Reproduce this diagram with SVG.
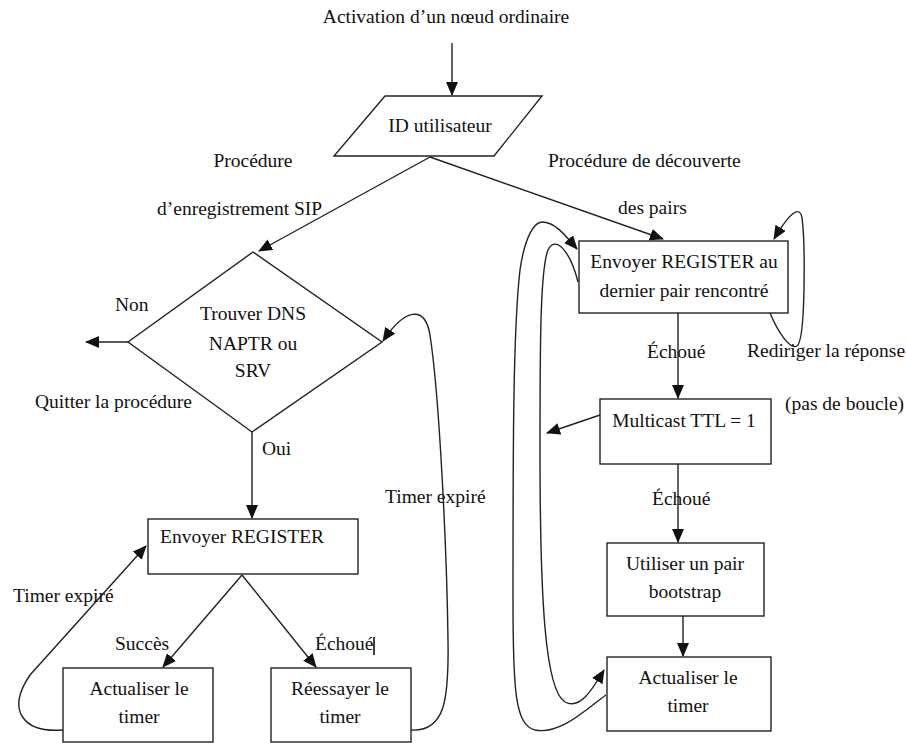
<svg xmlns="http://www.w3.org/2000/svg" width="906" height="743" viewBox="0 0 906 743" font-family="'Liberation Serif', 'DejaVu Serif', serif">
  <defs>
    <style>
      text { font-family: 'Liberation Serif', 'DejaVu Serif', serif; font-size: 19.5px; fill: #111; }
      .c { text-anchor: middle; }
      .shape { fill: #fff; stroke: #222; stroke-width: 1.4; }
      .edge { fill: none; stroke: #222; stroke-width: 1.4; }
      .arr { marker-end: url(#head); }
    </style>
    <marker id="head" markerUnits="userSpaceOnUse" markerWidth="14" markerHeight="12" viewBox="0 0 14 12" refX="13" refY="6" orient="auto">
      <path d="M0,0 L14,6 L0,12 Z" fill="#111"/>
    </marker>
  </defs>

  <rect width="906" height="743" fill="#fff"/>

  <!-- start label -->
  <g id="start">
    <text class="c" x="446" y="23">Activation d’un nœud ordinaire</text>
  </g>

  <!-- nodes -->
  <g id="id-utilisateur">
    <polygon class="shape" points="385,96 542,96 494,156 334,156"/>
    <text class="c" x="440" y="132">ID utilisateur</text>
  </g>

  <g id="trouver-dns">
    <polygon class="shape" points="253,252 382,342 252,432 128,342"/>
    <text class="c" x="253" y="320">Trouver DNS</text>
    <text class="c" x="253" y="350">NAPTR ou</text>
    <text class="c" x="253" y="377">SRV</text>
  </g>

  <g id="envoyer-register">
    <rect class="shape" x="148" y="519" width="210" height="55"/>
    <text x="160" y="543">Envoyer REGISTER</text>
  </g>

  <g id="actualiser-gauche">
    <rect class="shape" x="63" y="668" width="150" height="74"/>
    <text class="c" x="139" y="695">Actualiser le</text>
    <text class="c" x="139" y="723">timer</text>
  </g>

  <g id="reessayer">
    <rect class="shape" x="271" y="668" width="140" height="74"/>
    <text class="c" x="340" y="695">Réessayer le</text>
    <text class="c" x="340" y="723">timer</text>
  </g>

  <g id="envoyer-register-pair">
    <rect class="shape" x="579" y="241" width="209" height="72"/>
    <text class="c" x="684" y="268">Envoyer REGISTER au</text>
    <text class="c" x="684" y="297">dernier pair rencontré</text>
  </g>

  <g id="multicast">
    <rect class="shape" x="600" y="399" width="171" height="65"/>
    <text class="c" x="684" y="427">Multicast TTL = 1</text>
  </g>

  <g id="bootstrap">
    <rect class="shape" x="607" y="543" width="157" height="73"/>
    <text class="c" x="685" y="570">Utiliser un pair</text>
    <text class="c" x="685" y="598">bootstrap</text>
  </g>

  <g id="actualiser-droite">
    <rect class="shape" x="607" y="657" width="164" height="74"/>
    <text class="c" x="688" y="684">Actualiser le</text>
    <text class="c" x="688" y="712">timer</text>
  </g>

  <!-- connectors -->
  <g id="connectors">
    <line class="edge arr" x1="452" y1="43" x2="452" y2="95"/>
    <line class="edge arr" x1="430" y1="157" x2="259" y2="251"/>
    <line class="edge arr" x1="430" y1="157" x2="663" y2="239"/>
    <line class="edge arr" x1="128" y1="342" x2="86" y2="342"/>
    <line class="edge arr" x1="252" y1="432" x2="252" y2="518"/>
    <line class="edge arr" x1="242" y1="575" x2="163" y2="667"/>
    <line class="edge arr" x1="242" y1="575" x2="316" y2="667"/>
    <path class="edge arr" d="M63,730 C25,733 5,712 30,675 L146,546"/>
    <path class="edge arr" d="M411,730 C445,732 449,700 448,640 C447,560 440,400 430,335 C425,305 405,308 383,341"/>

    <path class="edge arr" d="M770,313 C778,332 790,350 797,346 C806,340 805,240 802,218 C800,205 790,212 774,239"/>
    <line class="edge arr" x1="678" y1="313" x2="678" y2="398"/>
    <line class="edge arr" x1="600" y1="415" x2="547" y2="433"/>
    <line class="edge arr" x1="678" y1="464" x2="678" y2="542"/>
    <line class="edge arr" x1="683" y1="616" x2="683" y2="656"/>
    <path class="edge arr" d="M578,282 C570,250 555,235 548,250 C540,270 540,350 540,450 C540,600 545,690 565,702 C580,710 592,690 604,670"/>
    <path class="edge arr" d="M606,695 C585,710 560,735 535,730 C515,725 513,690 513,600 C513,450 513,330 520,270 C525,235 535,222 542,222 C555,222 565,235 577,249"/>
  </g>

  <!-- connector labels -->
  <g id="labels">
    <text class="c" x="253" y="167">Procédure</text>
    <text x="157" y="215">d’enregistrement SIP</text>
    <text x="548" y="167">Procédure de découverte</text>
    <text x="618" y="214">des pairs</text>
    <text x="115" y="311">Non</text>
    <text x="35" y="408">Quitter la procédure</text>
    <text x="262" y="455">Oui</text>
    <text x="13" y="602">Timer expiré</text>
    <text x="385" y="503">Timer expiré</text>
    <text x="115" y="650">Succès</text>
    <text x="315" y="650">Échoué</text>
    <line x1="374" y1="637" x2="374" y2="655" stroke="#111" stroke-width="1.6"/>
    <text x="647" y="358">Échoué</text>
    <text x="747" y="357">Rediriger la réponse</text>
    <text x="785" y="410">(pas de boucle)</text>
    <text x="652" y="505">Échoué</text>
  </g>
</svg>
